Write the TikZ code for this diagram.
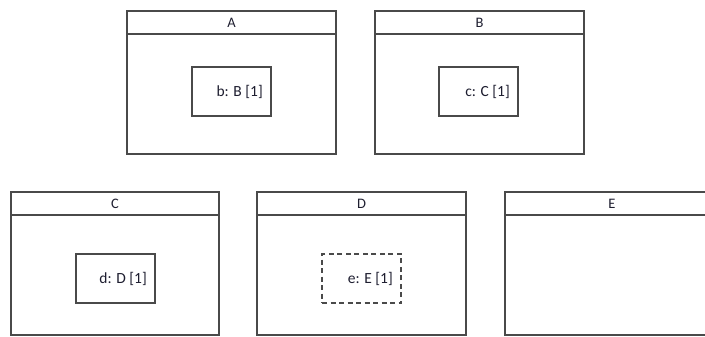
\documentclass[tikz,border=0pt]{standalone}
\usepackage{fontspec}
\setmainfont{Carlito}
\definecolor{linegray}{HTML}{4A4A4A}
\definecolor{txt}{HTML}{1E1E30}
\begin{document}
\begin{tikzpicture}[x=1pt,y=-1pt,
  outerbox/.style={draw=linegray,line width=1.2pt,rectangle,inner sep=0pt,outer sep=0pt,anchor=north west,minimum width=209pt,minimum height=143pt},
  partbox/.style={draw=linegray,line width=1.1pt,rectangle,inner sep=0pt,outer sep=0pt,anchor=north west,minimum width=79pt,minimum height=49pt},
  hdr/.style={draw=linegray,line width=1.2pt},
  ttl/.style={font=\fontsize{14.5}{16}\selectfont,text=txt,inner sep=0pt},
  lbl/.style={font=\fontsize{15.5}{17}\selectfont,text=txt,inner sep=0pt,anchor=east}]
\useasboundingbox (0,0) rectangle (705,337);
\fill[white] (0,0) rectangle (705,337);
% A
\node[outerbox] (A) at (127,11) {};
\draw[hdr] ([yshift=-23pt]A.north west) -- ([yshift=-23pt]A.north east);
\node[ttl] (At) at ([yshift=-11.5pt]A.north) {A};
\node[partbox] (b) at (192,67) {};
\node[lbl] (bl) at ([xshift=-8pt]b.east) {b: B [1]};
% B
\node[outerbox] (B) at (375,11) {};
\draw[hdr] ([yshift=-23pt]B.north west) -- ([yshift=-23pt]B.north east);
\node[ttl] (Bt) at ([yshift=-11.5pt]B.north) {B};
\node[partbox] (c) at (439,67) {};
\node[lbl] (cl) at ([xshift=-8pt]c.east) {c: C [1]};
% C
\node[outerbox,minimum width=208pt] (C) at (11,192) {};
\draw[hdr] ([yshift=-23pt]C.north west) -- ([yshift=-23pt]C.north east);
\node[ttl] (Ct) at ([yshift=-11.5pt]C.north) {C};
\node[partbox] (d) at (76,254) {};
\node[lbl] (dl) at ([xshift=-8pt]d.east) {d: D [1]};
% D
\node[outerbox] (D) at (257,192) {};
\draw[hdr] ([yshift=-23pt]D.north west) -- ([yshift=-23pt]D.north east);
\node[ttl] (Dt) at ([yshift=-11.5pt]D.north) {D};
\node[partbox,dashed,dash pattern=on 5pt off 3.5pt] (e) at (322,254) {};
\node[lbl] (el) at ([xshift=-8pt]e.east) {e: E [1]};
% E (cut off at right edge)
\node[rectangle,inner sep=0pt,outer sep=0pt,anchor=north west,minimum width=200pt,minimum height=143pt] (E) at (505,192) {};
\draw[hdr] (E.north east) -- (E.north west) -- (E.south west) -- (E.south east);
\draw[hdr] ([yshift=-23pt]E.north west) -- ([yshift=-23pt]E.north east);
\node[ttl] (Et) at ([yshift=-11.5pt,xshift=7pt]E.north) {E};
\end{tikzpicture}
\end{document}
